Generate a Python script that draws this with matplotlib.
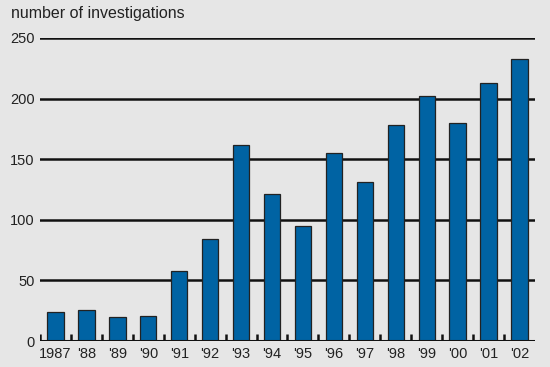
import matplotlib.pyplot as plt
import numpy as np

# Datos
years = ['1987', "'88", "'89", "'90", "'91", "'92", "'93", "'94",
         "'95", "'96", "'97", "'98", "'99", "'00", "'01", "'02"]
investigations = [24, 26, 20, 21, 58, 84, 162, 121,
                  95, 155, 131, 178, 202, 180, 213, 233]
y_ticks = [0, 50, 100, 150, 200, 250]

bg = '#e6e6e6'
plt.rcParams['font.family'] = ['Liberation Sans', 'DejaVu Sans']

fig = plt.figure(figsize=(5.5, 3.67), dpi=100, facecolor=bg)
ax = fig.add_axes([0.0727, 0.0708, 0.9, 0.8257], facecolor=bg)

x = np.arange(len(years))

# Lineas horizontales
for v in y_ticks[1:]:
    ax.axhline(v, color='#111111', linewidth=1.8, zorder=1)
ax.axhline(0, color='#111111', linewidth=2.2, zorder=3)

# Barras
ax.bar(x, investigations, width=0.53, color='#0063a3',
       edgecolor='#222222', linewidth=0.9, zorder=2)

# Marcas pequeñas entre barras
for t in np.arange(-0.5, len(years) - 1, 1.0):
    ax.plot([t, t], [0, 6], color='#111111', linewidth=1.8, zorder=3,
            solid_capstyle='butt')

ax.set_xlim(-0.5, len(years) - 0.5)
ax.set_ylim(0, 250)
ax.set_xticks(x)
ax.set_xticklabels(years)
ax.set_yticks(y_ticks)
ax.tick_params(axis='both', length=0, labelsize=10.5, colors='#222222')
ax.tick_params(axis='y', pad=4)
ax.tick_params(axis='x', pad=4)
for s in ax.spines.values():
    s.set_visible(False)

fig.text(0.02, 0.962, 'number of investigations', fontsize=11.5,
         color='#222222', va='center', ha='left')

plt.savefig('out.png', dpi=100, facecolor=bg)
plt.close()
